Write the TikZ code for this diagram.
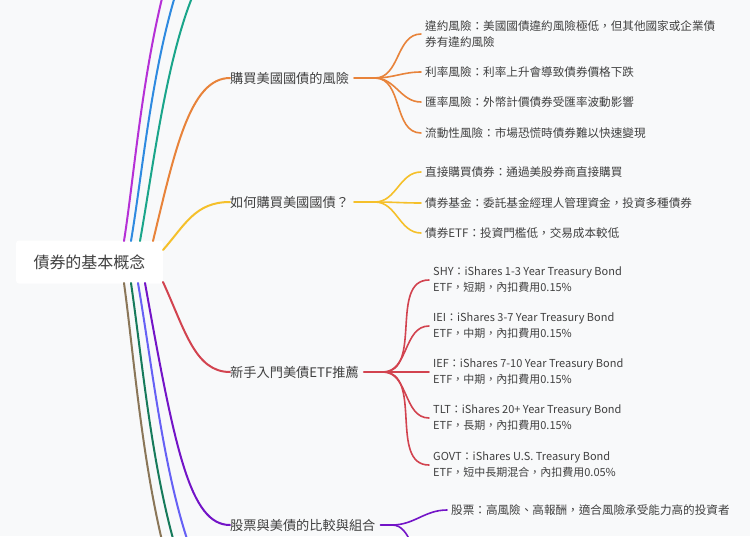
\documentclass[tikz,border=0pt]{standalone}
\usepackage{fontspec}
\setmainfont{Noto Sans CJK TC}
\begin{document}
\begin{tikzpicture}[x=1pt,y=-1pt,
  br/.style={line width=2pt,line cap=round},
  lbl/.style={anchor=west,inner sep=0pt,text=black!75,font=\fontsize{13.2}{15}\selectfont},
  leaf/.style={anchor=west,inner sep=0pt,text=black!75,align=left,font=\fontsize{11.6}{16}\selectfont},
  etf/.style={leaf,font=\fontsize{11}{16}\selectfont}]
\definecolor{bg}{HTML}{F8F9FA}
\definecolor{cOr}{HTML}{E8833A}\definecolor{cYe}{HTML}{F5C02A}\definecolor{cRe}{HTML}{D2434F}
\definecolor{cPu}{HTML}{7314C7}\definecolor{cMa}{HTML}{B530D6}\definecolor{cBl}{HTML}{2E8AE0}
\definecolor{cTe}{HTML}{1AA58A}\definecolor{cBp}{HTML}{6660F5}\definecolor{cGr}{HTML}{167A5B}
\definecolor{cBr}{HTML}{8A7658}
\fill[bg] (0,0) rectangle (750,536);
\useasboundingbox (0,0) rectangle (750,536);
\clip (0,0) rectangle (750,536);
\coordinate (t1) at (230,-160);\coordinate (t2) at (230,-110);\coordinate (t3) at (230,-60);
\coordinate (b1) at (230,700);\coordinate (b2) at (230,660);\coordinate (b3) at (230,620);
\coordinate (p2) at (430,560);
\node[fill=white,rounded corners=3pt,minimum width=147pt,minimum height=43pt,text=black!75,font=\fontsize{16}{18}\selectfont] (root) at (89.5,262) {債券的基本概念};
\coordinate (r1) at (124,241);\coordinate (r2) at (131,241);\coordinate (r3) at (140,241);
\coordinate (r4) at (153,241);\coordinate (r5) at (163,250);\coordinate (r6) at (163,282);
\coordinate (r7) at (145,283);\coordinate (r8) at (138,283);\coordinate (r9) at (131,283);\coordinate (r10) at (124,283);
\draw[br,cMa] (r1) .. controls (140,140) and (150,-60) .. (t1);
\draw[br,cBl] (r2) .. controls (148,140) and (160,-40) .. (t2);
\draw[br,cTe] (r3) .. controls (158,140) and (175,-20) .. (t3);
\draw[br,cBr] (r10) .. controls (140,400) and (150,600) .. (b1);
\draw[br,cGr] (r9) .. controls (148,400) and (160,580) .. (b2);
\draw[br,cBp] (r8) .. controls (158,400) and (172,560) .. (b3);
\node[lbl] (n1) at (230,78) {購買美國國債的風險};
\node[lbl] (n2) at (230,202) {如何購買美國國債？};
\node[lbl] (n3) at (230,372) {新手入門美債ETF推薦};
\node[lbl] (n4) at (230,525) {股票與美債的比較與組合};
\draw[br,cOr] (r4) .. controls (175,150) and (190,78) .. (n1.west);
\draw[br,cYe] (r5) .. controls (185,225) and (195,202) .. (n2.west);
\draw[br,cRe] (r6) .. controls (185,330) and (195,372) .. (n3.west);
\draw[br,cPu] (r7) .. controls (175,450) and (190,525) .. (n4.west);
\coordinate (h1) at (375,78);\coordinate (h2) at (375,202);\coordinate (h3) at (383,372);\coordinate (h4) at (392,525);
\draw[br,cOr] (n1.east)++(5,0) -- (h1);
\draw[br,cYe] (n2.east)++(5,0) -- (h2);
\draw[br,cRe] (n3.east)++(5,0) -- (h3);
\draw[br,cPu] (n4.east)++(5,0) -- (h4);
\node[leaf] (a1) at (425,34) {違約風險：美國國債違約風險極低，但其他國家或企業債\\券有違約風險};
\node[leaf] (a2) at (425,72) {利率風險：利率上升會導致債券價格下跌};
\node[leaf] (a3) at (425,102) {匯率風險：外幣計價債券受匯率波動影響};
\node[leaf] (a4) at (425,133) {流動性風險：市場恐慌時債券難以快速變現};
\foreach \n in {a1,a2,a3,a4} \draw[br,cOr,line width=1.6pt] (h1) to[out=0,in=180] ([xshift=-4pt]\n.west);
\node[leaf] (y1) at (425,172) {直接購買債券：通過美股券商直接購買};
\node[leaf] (y2) at (425,203) {債券基金：委託基金經理人管理資金，投資多種債券};
\node[leaf] (y3) at (425,233) {債券ETF：投資門檻低，交易成本較低};
\foreach \n in {y1,y2,y3} \draw[br,cYe,line width=1.6pt] (h2) to[out=0,in=180] ([xshift=-4pt]\n.west);
\node[etf] (e1) at (433,280) {SHY：iShares 1-3 Year Treasury Bond\\ETF，短期，內扣費用0.15\%};
\node[etf] (e2) at (433,326) {IEI：iShares 3-7 Year Treasury Bond\\ETF，中期，內扣費用0.15\%};
\node[etf] (e3) at (433,372) {IEF：iShares 7-10 Year Treasury Bond\\ETF，中期，內扣費用0.15\%};
\node[etf] (e4) at (433,418) {TLT：iShares 20+ Year Treasury Bond\\ETF，長期，內扣費用0.15\%};
\node[etf] (e5) at (433,465) {GOVT：iShares U.S. Treasury Bond\\ETF，短中長期混合，內扣費用0.05\%};
\foreach \n in {e1,e2,e3,e4,e5} \draw[br,cRe,line width=1.6pt] (h3) to[out=0,in=180] ([xshift=-4pt]\n.west);
\node[leaf] (s1) at (451,510) {股票：高風險、高報酬，適合風險承受能力高的投資者};
\draw[br,cPu,line width=1.6pt] (h4) to[out=0,in=180] ([xshift=-4pt]s1.west);
\draw[br,cPu,line width=1.6pt] (h4) to[out=0,in=180] (p2);
\end{tikzpicture}
\end{document}
